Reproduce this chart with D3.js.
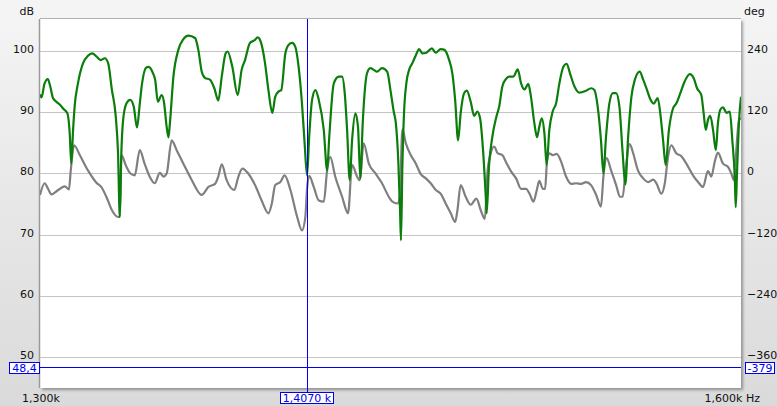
<!DOCTYPE html>
<html>
<head>
<meta charset="utf-8">
<script src="https://cdn.jsdelivr.net/npm/d3@7"></script>
<style>
  html, body { margin: 0; padding: 0; overflow: hidden; }
  svg { display: block; font-family: "DejaVu Sans", Verdana, sans-serif; }
</style>
</head>
<body>
<svg id="chart" width="777" height="406"></svg>
<script>
// ---- data (frequency in Hz, level in dB) ----
const greenFreq = [1300.0,1300.6,1301.7,1303.0,1303.9,1305.0,1306.3,1307.7,1308.9,1310.6,1311.5,1312.1,1312.8,1313.4,1314.7,1316.7,1318.6,1320.3,1321.9,1323.6,1325.2,1326.5,1328.0,1329.5,1330.4,1331.1,1331.7,1332.4,1333.7,1335.2,1336.6,1337.9,1339.0,1339.9,1341.6,1342.5,1344.3,1345.1,1346.2,1347.7,1348.6,1349.7,1350.4,1351.0,1352.4,1354.4,1356.4,1358.4,1361.1,1362.4,1363.8,1365.1,1367.1,1368.9,1370.5,1371.9,1373.5,1374.3,1376.2,1378.4,1380.0,1381.4,1383.4,1385.2,1386.6,1388.0,1389.6,1391.0,1392.6,1393.8,1395.3,1396.3,1398.0,1399.4,1400.8,1402.1,1403.5,1404.9,1406.0,1407.0,1407.9,1409.1,1410.5,1411.9,1414.0,1415.4,1416.3,1418.2,1420.3,1421.7,1422.8,1423.8,1424.9,1425.9,1427.3,1428.4,1429.4,1430.4,1432.2,1433.6,1435.1,1436.5,1438.6,1440.8,1442.2,1443.6,1444.5,1445.6,1446.3,1446.7,1447.3,1448.0,1449.0,1450.2,1451.6,1453.1,1454.5,1455.9,1457.6,1460.0,1461.7,1463.8,1465.3,1467.5,1468.9,1470.1,1471.4,1472.5,1474.0,1475.2,1476.9,1478.4,1479.8,1481.0,1482.3,1483.5,1483.9,1484.9,1486.4,1488.2,1489.4,1490.8,1492.6,1493.9,1495.7,1497.6,1499.1,1500.6,1502.3,1503.5,1505.0,1506.2,1507.2,1508.3,1509.5,1510.5,1511.7,1513.2,1514.7,1516.2,1518.0,1519.5,1521.0,1523.0,1525.2,1528.2,1530.5,1532.0,1533.5,1535.0,1536.1,1537.3,1538.8,1540.4,1541.9,1543.4,1544.9,1546.1,1547.4,1548.9,1550.5,1552.7,1554.3,1556.1,1557.6,1559.2,1561.0,1562.2,1563.5,1564.7,1566.2,1568.1,1569.6,1571.5,1573.5,1575.9,1577.8,1579.3,1581.3,1582.4,1583.4,1584.4,1585.5,1586.8,1588.1,1589.1,1590.2,1591.5,1593.1,1594.7,1595.9,1597.1,1597.5,1598.1,1599.1,1600.0];
const greenDb = [92.9,92.4,94.6,95.4,94.3,92.3,91.7,91.2,90.6,89.8,86.5,81.6,87.1,90.9,94.7,98.0,99.2,99.6,99.1,98.5,98.8,98.0,93.6,89.3,83.3,72.9,83.3,88.7,91.4,92.0,90.9,87.5,91.4,94.7,97.3,97.4,96.3,95.3,91.7,92.8,91.7,87.6,85.9,88.2,95.8,100.2,101.9,102.5,102.1,100.2,96.6,95.6,95.3,93.9,91.9,95.8,99.6,99.9,97.4,92.8,96.9,98.5,101.3,101.7,102.2,101.3,98.0,93.6,89.9,92.5,93.4,93.6,99.6,101.0,101.3,100.7,97.4,91.4,84.9,79.7,86.0,92.0,93.6,92.0,87.1,80.5,86.0,94.7,95.8,95.8,93.1,87.1,78.9,85.4,89.8,87.6,79.2,88.2,96.3,97.2,96.9,96.6,97.2,96.6,93.6,90.1,88.2,81.6,74.0,69.1,81.1,89.8,94.7,96.9,98.0,99.3,100.3,99.6,99.7,100.4,99.7,100.3,100.2,98.5,96.3,92.0,85.4,89.8,93.1,93.5,91.7,89.4,90.1,89.0,83.8,76.2,73.5,81.1,86.0,89.3,90.9,94.2,95.5,95.8,95.8,97.0,94.7,93.7,94.6,92.5,88.2,85.9,87.6,89.0,86.5,81.4,87.1,90.1,91.4,94.7,97.4,97.9,96.3,94.2,93.2,93.5,93.9,93.6,90.9,85.4,80.0,86.0,91.4,93.1,93.1,90.9,83.3,78.2,86.0,92.5,95.3,96.6,95.3,93.6,92.1,91.4,92.3,89.8,85.4,81.4,87.1,90.6,91.4,93.1,95.0,96.2,95.5,93.9,92.8,89.8,87.1,88.7,89.4,87.1,83.8,88.2,90.4,90.8,89.9,90.1,85.4,78.9,74.5,80.0,88.7,92.5];

const grayFreq = [1300.0,1301.8,1303.1,1304.4,1307.0,1309.6,1311.2,1311.9,1313.2,1315.4,1318.6,1321.9,1323.8,1325.8,1328.0,1330.4,1331.1,1331.7,1333.7,1335.3,1337.0,1339.0,1340.9,1342.9,1344.9,1347.0,1348.4,1349.7,1351.7,1353.7,1356.4,1359.8,1363.8,1366.5,1369.2,1370.5,1371.9,1373.9,1377.0,1378.7,1380.3,1382.7,1385.5,1388.2,1391.0,1392.4,1393.8,1395.9,1397.7,1400.1,1402.9,1404.9,1406.3,1407.0,1407.9,1409.8,1411.9,1414.0,1415.4,1416.7,1418.8,1421.7,1424.2,1425.9,1428.0,1429.1,1430.8,1433.0,1435.8,1438.6,1441.5,1443.0,1445.2,1446.2,1447.3,1448.8,1450.9,1453.1,1455.2,1457.4,1459.5,1461.7,1463.8,1466.0,1468.2,1470.1,1471.1,1472.5,1474.7,1476.9,1479.4,1481.3,1483.1,1484.2,1485.7,1487.2,1488.7,1490.8,1492.6,1494.7,1496.9,1499.1,1501.3,1503.1,1504.6,1506.1,1507.2,1508.8,1509.8,1510.7,1511.7,1513.2,1515.0,1517.0,1519.2,1521.5,1523.7,1526.0,1528.2,1530.5,1532.8,1535.0,1536.1,1537.6,1539.6,1541.9,1543.7,1544.9,1546.2,1548.1,1549.7,1551.9,1554.3,1556.6,1558.9,1560.4,1562.7,1564.3,1565.8,1567.3,1569.6,1572.0,1574.3,1577.4,1579.8,1582.1,1584.4,1586.0,1587.6,1589.1,1591.5,1593.8,1595.4,1596.7,1598.1,1599.1,1600.0];
const grayDb = [76.5,78.4,77.5,76.6,77.3,77.9,77.4,80.5,84.6,83.0,80.5,78.5,77.8,76.2,74.0,72.9,72.9,83.0,81.1,80.0,79.7,83.8,81.6,79.5,78.4,80.1,79.5,80.0,85.4,83.8,81.6,78.9,76.5,77.8,78.3,79.5,81.5,78.9,77.3,79.5,80.8,80.0,78.1,75.6,73.5,75.1,78.1,78.6,79.7,77.3,72.9,70.7,72.9,77.5,79.6,77.8,75.6,75.4,80.5,82.7,79.5,76.2,73.5,81.4,79.5,78.9,84.9,81.6,80.0,78.4,76.2,75.4,75.1,76.2,87.2,84.9,83.0,81.6,79.9,79.2,78.4,77.3,76.7,75.1,73.5,72.1,74.0,78.1,76.2,74.9,75.9,74.0,72.6,80.0,83.3,84.4,83.3,83.0,81.7,80.3,79.2,77.5,77.5,76.5,75.4,77.3,78.8,77.5,77.5,82.2,83.3,83.0,83.2,81.9,79.5,78.3,78.4,78.3,78.6,78.1,76.5,74.6,79.5,82.5,80.5,78.1,76.2,76.2,80.5,84.8,83.3,80.5,79.2,78.6,79.0,78.4,76.7,78.4,82.7,84.6,83.3,82.8,81.6,79.7,78.6,77.8,80.4,79.5,81.9,83.4,81.6,81.1,80.0,78.9,85.4,88.8,89.0];

const dbTicks = [50, 60, 70, 80, 90, 100];
const degTicks = [-360, -240, -120, 0, 120, 240];
const freqDomain = [1300, 1600];
const freqLabels = ["1,300k", "1,600k Hz"];
const cursorFreq = 1407.0, cursorFreqLabel = "1,4070 k";
const cursorDb = 48.4, cursorDbLabel = "48,4";
const cursorDegLabel = "-379";

// ---- layout ----
const W = 777, H = 406;
const L = 40, R = 741, T = 19, B = 388;
const svg = d3.select("#chart");

const x = d3.scaleLog().domain(freqDomain).range([L, R]);
const y = d3.scaleLinear().domain([45.0, 105.2]).range([B, T]);
const yDeg = d3.scaleLinear().domain([(45.0 - 80) * 12, (105.2 - 80) * 12]).range([B, T]);

const defs = svg.append("defs");
const bg = defs.append("linearGradient").attr("id", "bg").attr("x1", 0).attr("y1", 0).attr("x2", 0).attr("y2", 1);
bg.append("stop").attr("offset", "0%").attr("stop-color", "#f5f5f5");
bg.append("stop").attr("offset", "100%").attr("stop-color", "#dadada");
const sh = defs.append("filter").attr("id", "shadow").attr("x", "-5%").attr("y", "-5%").attr("width", "110%").attr("height", "110%");
sh.append("feDropShadow").attr("dx", 2).attr("dy", 2).attr("stdDeviation", 1.5)
  .attr("flood-color", "#000").attr("flood-opacity", 0.35);
defs.append("clipPath").attr("id", "clip").append("rect")
  .attr("x", L).attr("y", T).attr("width", R - L).attr("height", B - T);

svg.append("rect").attr("width", W).attr("height", H).attr("fill", "url(#bg)");
svg.append("rect").attr("x", L).attr("y", T).attr("width", R - L).attr("height", B - T)
  .attr("fill", "#fff").attr("filter", "url(#shadow)");
svg.append("line").attr("x1", L - 0.5).attr("x2", L - 0.5).attr("y1", T).attr("y2", B)
  .attr("stroke", "#9a9a9a").attr("stroke-width", 1.5);
svg.append("line").attr("x1", L).attr("x2", R).attr("y1", T - 0.5).attr("y2", T - 0.5)
  .attr("stroke", "#b0b0b0").attr("stroke-width", 1);

// gridlines
svg.append("g").selectAll("line").data(dbTicks).join("line")
  .attr("x1", L).attr("x2", R)
  .attr("y1", d => Math.round(y(d)) + 0.5).attr("y2", d => Math.round(y(d)) + 0.5)
  .attr("stroke", "#c4c4c4").attr("stroke-width", 1);

// axes
const fontSize = 11;
const leftAxis = svg.append("g").attr("transform", `translate(${L},0)`)
  .call(d3.axisLeft(y).tickValues(dbTicks).tickSize(0).tickPadding(6));
const rightAxis = svg.append("g").attr("transform", `translate(${R},0)`)
  .call(d3.axisRight(yDeg).tickValues(degTicks).tickSize(0).tickPadding(6));
[leftAxis, rightAxis].forEach(g => {
  g.select(".domain").remove();
  g.selectAll("text").attr("font-size", fontSize).attr("fill", "#111").attr("dy", "0.12em")
    .attr("font-family", "DejaVu Sans, sans-serif");
});

svg.append("text").attr("x", 34).attr("y", 15).attr("text-anchor", "end")
  .attr("font-size", fontSize).attr("fill", "#111").text("dB");
svg.append("text").attr("x", 744).attr("y", 15).attr("text-anchor", "start")
  .attr("font-size", fontSize).attr("fill", "#111").text("deg");
svg.append("text").attr("x", 22).attr("y", 402).attr("text-anchor", "start")
  .attr("font-size", fontSize).attr("fill", "#111").text(freqLabels[0]);
svg.append("text").attr("x", 760).attr("y", 402).attr("text-anchor", "end")
  .attr("font-size", fontSize).attr("fill", "#111").text(freqLabels[1]);

// curves
const line = d3.line().x(d => x(d[0])).y(d => y(d[1])).curve(d3.curveMonotoneX);
const plot = svg.append("g").attr("clip-path", "url(#clip)");
plot.append("path").datum(d3.zip(grayFreq, grayDb)).attr("d", line)
  .attr("fill", "none").attr("stroke", "#7f7f7f").attr("stroke-width", 2.2).attr("stroke-linejoin", "round");
plot.append("path").datum(d3.zip(greenFreq, greenDb)).attr("d", line)
  .attr("fill", "none").attr("stroke", "#0a7d0a").attr("stroke-width", 2.2).attr("stroke-linejoin", "round");

// cursor
const cx = Math.round(x(cursorFreq)) + 0.5;
const cy = Math.round(y(cursorDb)) + 0.5;
const blue = "#0000ee";
svg.append("line").attr("x1", L).attr("x2", R).attr("y1", cy).attr("y2", cy)
  .attr("stroke", blue).attr("stroke-width", 1);
svg.append("line").attr("x1", cx).attr("x2", cx).attr("y1", T).attr("y2", 392)
  .attr("stroke", blue).attr("stroke-width", 1);

function labelBox(x0, x1, top, txt) {
  const g = svg.append("g");
  g.append("rect").attr("x", x0 + 0.5).attr("y", top + 0.5)
    .attr("width", x1 - x0 - 1).attr("height", 11)
    .attr("fill", "#fff").attr("stroke", blue).attr("stroke-width", 1);
  g.append("text").attr("font-size", fontSize).attr("fill", blue)
    .attr("text-anchor", "middle").attr("x", (x0 + x1) / 2).attr("y", top + 10).text(txt);
}
labelBox(9, 40, 362, cursorDbLabel);
labelBox(745, 775, 362, cursorDegLabel);
labelBox(280, 334, 392, cursorFreqLabel);
</script>
</body>
</html>
